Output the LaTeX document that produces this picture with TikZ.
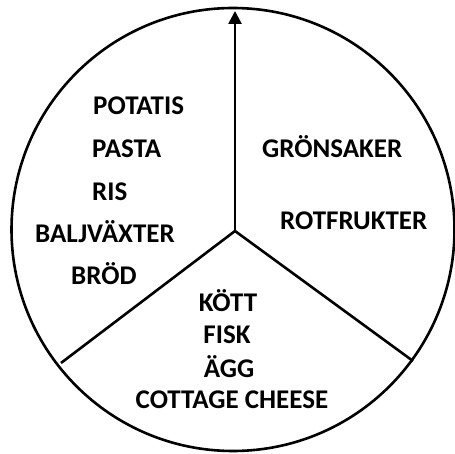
\documentclass[tikz,border=0pt]{standalone}
\usepackage{fontspec}
\setmainfont{Carlito}
\usetikzlibrary{arrows.meta}
\begin{document}
\begin{tikzpicture}[x=1pt,y=-1pt,
  lbl/.style={font=\fontsize{27}{27}\selectfont\bfseries, inner sep=0pt, anchor=base west},
  stroke/.style={line width=2.6pt, black}]
\useasboundingbox (0,0) rectangle (455,454);
\fill[white] (0,0) rectangle (455,454);
\draw[stroke] (233,229.5) circle[radius=221.5];
\coordinate (c) at (235,231);
\coordinate (top) at (235,11);
\coordinate (ll) at (61,363);
\coordinate (lr) at (413,361);
\draw[stroke, -{Triangle[width=13pt,length=13pt]}] (c) -- (top);
\draw[stroke, line join=miter] (ll) -- (c) -- (lr);
\node[lbl] (potatis) at (93,115) {POTATIS};
\node[lbl] (pasta) at (92,158) {PASTA};
\node[lbl] (ris) at (92,201) {RIS};
\node[lbl] (balj) at (35,243) {BALJVÄXTER};
\node[lbl] (brod) at (71,285) {BRÖD};
\node[lbl] (gron) at (262,158) {GRÖNSAKER};
\node[lbl] (rot) at (280,230) {ROTFRUKTER};
\node[lbl,anchor=base] (kott) at (228,312) {KÖTT};
\node[lbl,anchor=base] (fisk) at (227,343) {FISK};
\node[lbl,anchor=base] (agg) at (229,377) {ÄGG};
\node[lbl,anchor=base] (cottage) at (232,408) {COTTAGE CHEESE};
\end{tikzpicture}
\end{document}
